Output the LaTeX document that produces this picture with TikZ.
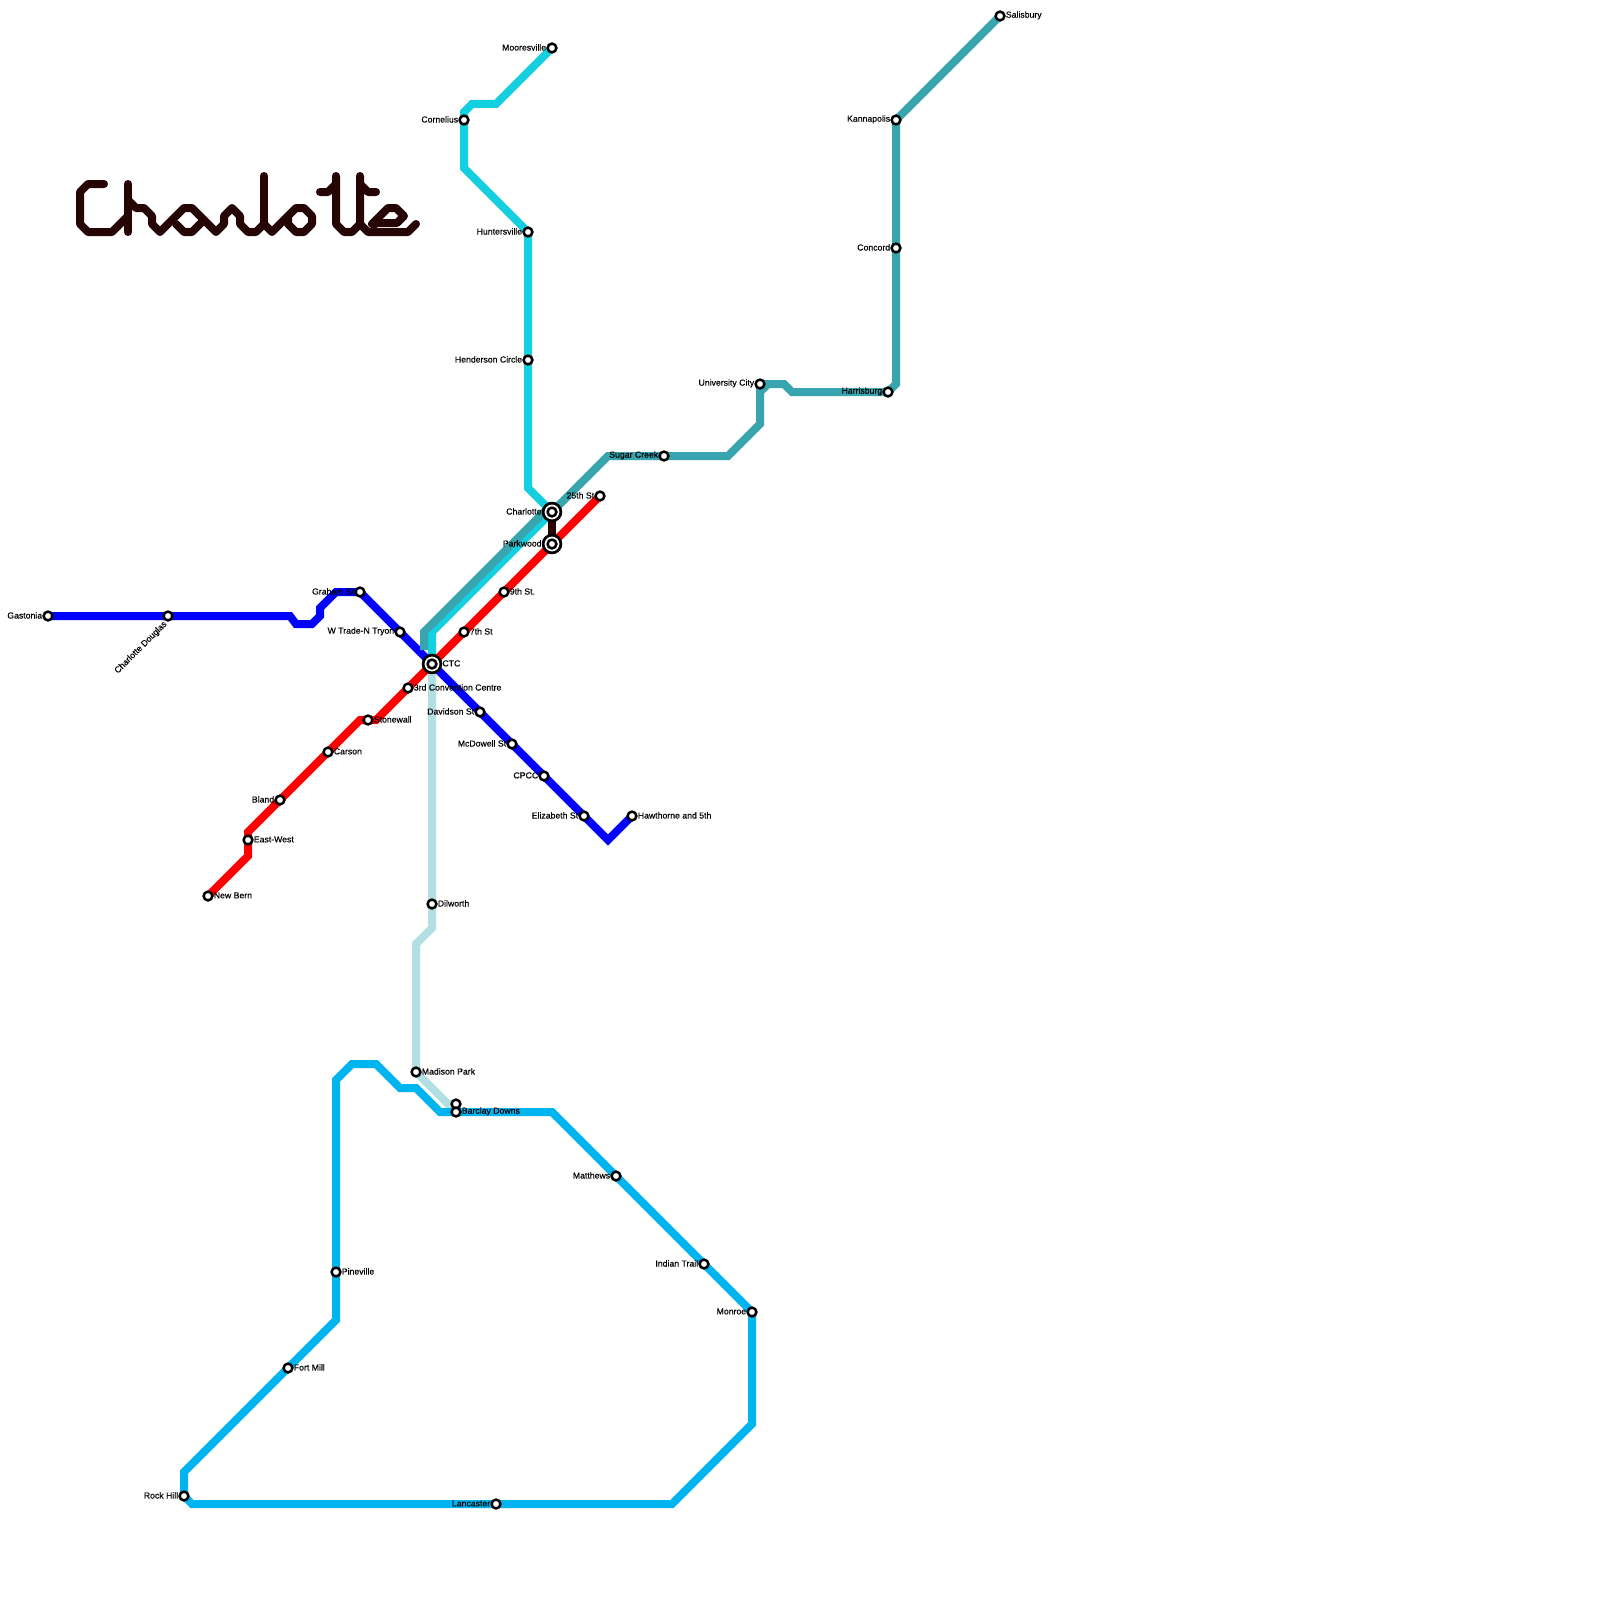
\documentclass[tikz,border=0pt]{standalone}
\usepackage{fontspec}
\setmainfont{Liberation Sans}
\newfontfamily\labfont[FakeBold=0.25]{Liberation Sans}
\definecolor{cblue}{HTML}{0000FF}
\definecolor{cred}{HTML}{FF0000}
\definecolor{cteal}{HTML}{38A4AE}
\definecolor{ccyan}{HTML}{12D0DF}
\definecolor{csky}{HTML}{00B4EF}
\definecolor{cpale}{HTML}{B2DFE2}
\definecolor{cdark}{HTML}{260505}
\tikzset{
  metro/.style={line width=8pt,line join=miter,miter limit=10},
  lettering/.style={line width=8pt,color=cdark,line cap=round,line join=round},
  lab/.style={inner sep=0pt,font=\labfont\fontsize{8.7}{10}\selectfont,text=black,yshift=.6pt},
  stn/.style={circle,draw=black,fill=white,line width=2.5pt,minimum size=8.8pt,inner sep=0pt,label distance=.4pt},
  hubring/.style={circle,draw=black,fill=white,line width=2.7pt,minimum size=17.8pt,inner sep=0pt,label distance=1.6pt},
}
\begin{document}
\begin{tikzpicture}[x=1pt,y=-1pt]
\useasboundingbox[fill=white] (0,0) rectangle (1600,1600);
% station positions
\coordinate (gastonia) at (48,616);
\coordinate (douglas) at (168,616);
\coordinate (graham) at (360,592);
\coordinate (wtrade) at (400,632);
\coordinate (ctc) at (432,664);
\coordinate (davidson) at (480,712);
\coordinate (mcdowell) at (512,744);
\coordinate (cpcc) at (544,776);
\coordinate (elizabeth) at (584,816);
\coordinate (hawthorne) at (632,816);
\coordinate (newbern) at (208,896);
\coordinate (eastwest) at (248,840);
\coordinate (bland) at (280,800);
\coordinate (carson) at (328,752);
\coordinate (stonewall) at (368,720);
\coordinate (third) at (408,688);
\coordinate (seventh) at (464,632);
\coordinate (ninth) at (504,592);
\coordinate (parkwood) at (552,544);
\coordinate (twentyfifth) at (600,496);
\coordinate (mooresville) at (552,48);
\coordinate (cornelius) at (464,120);
\coordinate (huntersville) at (528,232);
\coordinate (henderson) at (528,360);
\coordinate (charlotte) at (552,512);
\coordinate (sugar) at (664,456);
\coordinate (university) at (760,384);
\coordinate (harrisburg) at (888,392);
\coordinate (concord) at (896,248);
\coordinate (kannapolis) at (896,120);
\coordinate (salisbury) at (1000,16);
\coordinate (dilworth) at (432,904);
\coordinate (madison) at (416,1072);
\coordinate (barclayn) at (456,1104);
\coordinate (barclay) at (456,1112);
\coordinate (pineville) at (336,1272);
\coordinate (fortmill) at (288,1368);
\coordinate (rockhill) at (184,1496);
\coordinate (lancaster) at (496,1504);
\coordinate (matthews) at (616,1176);
\coordinate (indian) at (704,1264);
\coordinate (monroe) at (752,1312);
% lines
\draw[metro,cpale] (ctc) -- (dilworth) -- (432,928) -- (416,944) -- (madison) -- (448,1104) -- (barclayn);
\draw[metro,csky] (pineville) -- (336,1080) -- (352,1064) -- (376,1064) -- (400,1088) -- (416,1088) -- (440,1112) -- (barclay) -- (552,1112) -- (matthews) -- (indian) -- (monroe) -- (752,1424) -- (672,1504) -- (lancaster) -- (192,1504) -- (rockhill) -- (184,1472) -- (fortmill) -- (336,1320) -- cycle;
\draw[metro,cred] (newbern) -- (248,856) -- (eastwest) -- (248,832) -- (bland) -- (carson) -- (360,720) -- (stonewall) -- (376,720) -- (third) -- (ctc) -- (seventh) -- (ninth) -- (parkwood) -- (twentyfifth);
\draw[metro,cblue] (gastonia) -- (douglas) -- (290,616) -- (296,624) -- (312,624) -- (320,616) -- (320,608) -- (336,592) -- (graham) -- (wtrade) -- (ctc) -- (davidson) -- (mcdowell) -- (cpcc) -- (elizabeth) -- (608,840) -- (hawthorne);
\draw[metro,ccyan] (mooresville) -- (496,104) -- (472,104) -- (464,112) -- (cornelius) -- (464,168) -- (huntersville) -- (henderson) -- (528,488) -- (charlotte) -- (432,632) -- (ctc);
\draw[metro,cteal] (424,650) -- (424,632) -- (544,512) -- (charlotte) -- (608,456) -- (sugar) -- (728,456) -- (760,424) -- (760,392) -- (768,384) -- (784,384) -- (792,392) -- (harrisburg) -- (896,384) -- (concord) -- (kannapolis) -- (salisbury);
\draw[metro,cteal] (university) -- (770,384) (university) -- (760,394);
\draw[metro,cdark] (charlotte) -- (parkwood);
% title
\draw[lettering] (104,184) -- (88,184) -- (80,192) -- (80,224) -- (88,232) -- (112,232) -- (128,216);
\draw[lettering] (128,184) -- (128,232);
\draw[lettering] (128,200) -- (136,208) -- (144,208) -- (152,216) -- (152,224) -- (160,232) -- (184,208) -- (192,208) -- (216,232) -- (224,224) -- (224,216) -- (232,208) -- (240,216) -- (240,224) -- (248,232) -- (256,232) -- (264,224) -- (272,232) -- (296,208) -- (304,208) -- (312,216) -- (312,224) -- (304,232) -- (296,232) -- (288,224) -- (288,216) -- (296,208);
\draw[lettering] (176,224) -- (184,232) -- (192,232) -- (204,220);
\draw[lettering] (264,176) -- (264,224);
\draw[lettering] (320,192) -- (328,192) -- (336,184);
\draw[lettering] (336,176) -- (336,224) -- (344,232) -- (352,232) -- (360,224);
\draw[lettering] (376,192) -- (368,192) -- (360,184);
\draw[lettering] (360,176) -- (360,224) -- (368,232) -- (408,232) -- (416,224);
\draw[lettering] (376,224) -- (372,224) -- (388,208) -- (396,208) -- (404,216) -- (397,223) -- (376,223);
% stations
\node[stn,label={[lab]left:Gastonia}] (s1) at (gastonia) {};
\node[stn] (s2) at (douglas) {};
\node[lab,rotate=45,anchor=north east,xshift=-7pt,yshift=.6pt] (s2l) at (douglas) {Charlotte Douglas};
\node[stn,label={[lab]left:Graham St}] (s3) at (graham) {};
\node[stn,label={[lab]left:W Trade-N Tryon}] (s4) at (wtrade) {};
\node[stn,label={[lab]left:Davidson St}] (s6) at (davidson) {};
\node[stn,label={[lab]left:McDowell St}] (s7) at (mcdowell) {};
\node[stn,label={[lab]left:CPCC}] (s8) at (cpcc) {};
\node[stn,label={[lab]left:Elizabeth St}] (s9) at (elizabeth) {};
\node[stn,label={[lab]right:Hawthorne and 5th}] (s10) at (hawthorne) {};
\node[stn,label={[lab]right:New Bern}] (s11) at (newbern) {};
\node[stn,label={[lab]right:East-West}] (s12) at (eastwest) {};
\node[stn,label={[lab]left:Bland}] (s13) at (bland) {};
\node[stn,label={[lab]right:Carson}] (s14) at (carson) {};
\node[stn,label={[lab]right:Stonewall}] (s15) at (stonewall) {};
\node[stn,label={[lab]right:3rd Convention Centre}] (s16) at (third) {};
\node[stn,label={[lab]right:7th St}] (s17) at (seventh) {};
\node[stn,label={[lab]right:9th St.}] (s18) at (ninth) {};
\node[stn,label={[lab]left:25th St}] (s19) at (twentyfifth) {};
\node[stn,label={[lab]left:Mooresville}] (s20) at (mooresville) {};
\node[stn,label={[lab]left:Cornelius}] (s21) at (cornelius) {};
\node[stn,label={[lab]left:Huntersville}] (s22) at (huntersville) {};
\node[stn,label={[lab]left:Henderson Circle}] (s23) at (henderson) {};
\node[stn,label={[lab]left:Sugar Creek}] (s24) at (sugar) {};
\node[stn,label={[lab]left:University City}] (s25) at (university) {};
\node[stn,label={[lab]left:Harrisburg}] (s26) at (harrisburg) {};
\node[stn,label={[lab]left:Concord}] (s27) at (concord) {};
\node[stn,label={[lab]left:Kannapolis}] (s28) at (kannapolis) {};
\node[stn,label={[lab]right:Salisbury}] (s29) at (salisbury) {};
\node[stn,label={[lab]right:Dilworth}] (s30) at (dilworth) {};
\node[stn,label={[lab]right:Madison Park}] (s31) at (madison) {};
\node[stn] (s32) at (barclayn) {};
\node[stn,label={[lab]right:Barclay Downs}] (s33) at (barclay) {};
\node[stn,label={[lab]right:Pineville}] (s34) at (pineville) {};
\node[stn,label={[lab]right:Fort Mill}] (s35) at (fortmill) {};
\node[stn,label={[lab]left:Rock Hill}] (s36) at (rockhill) {};
\node[stn,label={[lab]left:Lancaster}] (s37) at (lancaster) {};
\node[stn,label={[lab]left:Matthews}] (s38) at (matthews) {};
\node[stn,label={[lab]left:Indian Trail}] (s39) at (indian) {};
\node[stn,label={[lab]left:Monroe}] (s40) at (monroe) {};
% interchanges
\node[hubring,label={[lab]right:CTC}] (h1) at (ctc) {};
\node[stn] (h1c) at (ctc) {};
\node[hubring,label={[lab]left:Charlotte}] (h2) at (charlotte) {};
\node[stn] (h2c) at (charlotte) {};
\node[hubring,label={[lab]left:Parkwood}] (h3) at (parkwood) {};
\node[stn] (h3c) at (parkwood) {};
\end{tikzpicture}
\end{document}
